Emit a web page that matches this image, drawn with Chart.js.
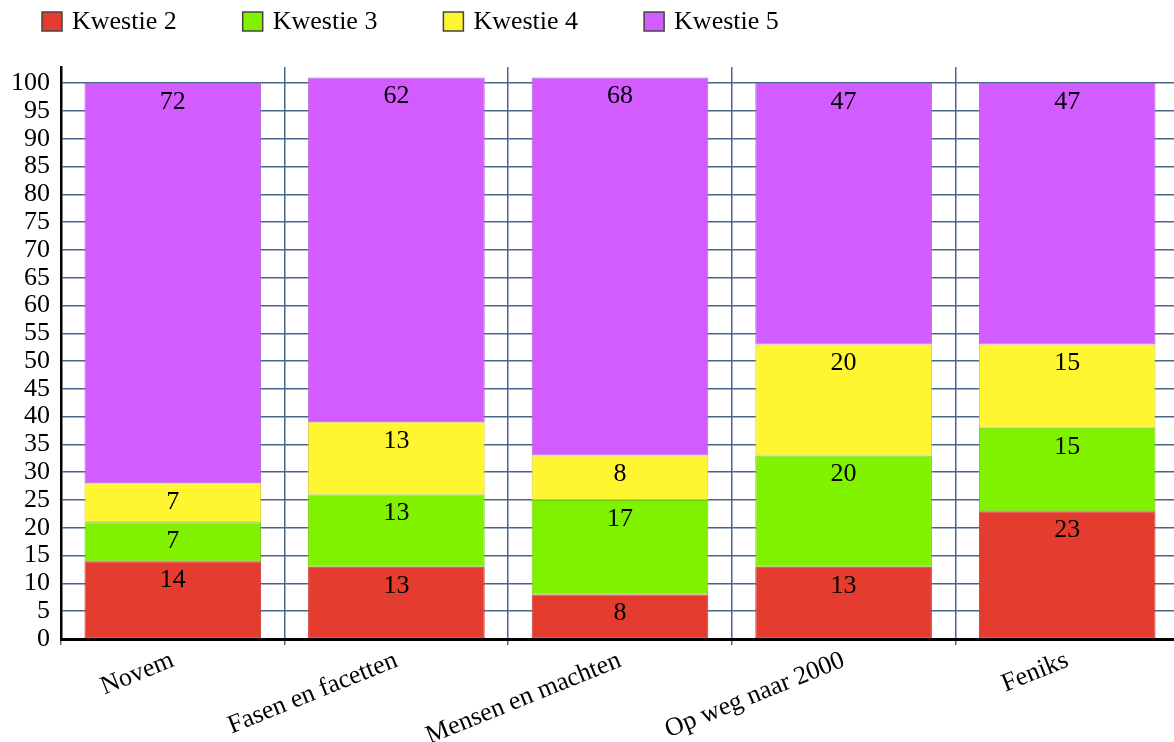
<!DOCTYPE html>
<html>
<head>
<meta charset="utf-8">
<script src="https://cdn.jsdelivr.net/npm/chart.js@4.4.1/dist/chart.umd.min.js"></script>
<style>
    html, body { margin: 0; padding: 0; background: #fff; overflow: hidden; }
    #wrap { width: 1179px; height: 742px; }
</style>
</head>
<body>
<div id="wrap"><canvas id="chart" width="1179" height="742"></canvas></div>
<script>
// ── DATA ─────────────────────────────────────────────
const categories = ['Novem', 'Fasen en facetten', 'Mensen en machten', 'Op weg naar 2000', 'Feniks'];
const seriesNames = ['Kwestie 2', 'Kwestie 3', 'Kwestie 4', 'Kwestie 5'];
const kwestie2 = [14, 13, 8, 13, 23];
const kwestie3 = [7, 13, 17, 20, 15];
const kwestie4 = [7, 13, 8, 20, 15];
const kwestie5 = [72, 62, 68, 47, 47];
const yTicks = [0, 5, 10, 15, 20, 25, 30, 35, 40, 45, 50, 55, 60, 65, 70, 75, 80, 85, 90, 95, 100];

const fills = ['#e53c30', '#80f200', '#fff530', '#d25cff'];
const borders = ['#c83a30', '#74c810', '#d8c838', '#b060d8'];
const FONT = 'Liberation Serif, Times New Roman, serif';
const gridColor = '#46668a';

// ── PLUGINS ──────────────────────────────────────────
// value label near the top of every segment
const segmentLabels = {
    id: 'segmentLabels',
    afterDatasetsDraw(chart) {
        const ctx = chart.ctx;
        ctx.save();
        ctx.font = '26px ' + FONT;
        ctx.fillStyle = '#000';
        ctx.textAlign = 'center';
        ctx.textBaseline = 'top';
        chart.data.datasets.forEach((ds, i) => {
            chart.getDatasetMeta(i).data.forEach((bar, j) => {
                ctx.fillText(String(ds.data[j]), bar.x, bar.y + 6);
            });
        });
        ctx.restore();
    }
};

// legend row at the top left
const topLegend = {
    id: 'topLegend',
    afterDraw(chart) {
        const ctx = chart.ctx;
        ctx.save();
        ctx.font = '26px ' + FONT;
        ctx.textBaseline = 'middle';
        ctx.textAlign = 'left';
        let x = 42;
        chart.data.datasets.forEach(ds => {
            ctx.fillStyle = ds.backgroundColor;
            ctx.fillRect(x, 12, 20, 19);
            ctx.strokeStyle = '#444';
            ctx.lineWidth = 1.5;
            ctx.strokeRect(x, 12, 20, 19);
            ctx.fillStyle = '#000';
            ctx.fillText(ds.label, x + 30, 22);
            x += 30 + ctx.measureText(ds.label).width + 66;
        });
        ctx.restore();
    }
};

// ── CHART ────────────────────────────────────────────
const seriesValues = [kwestie2, kwestie3, kwestie4, kwestie5];

new Chart(document.getElementById('chart'), {
    type: 'bar',
    data: {
        labels: categories,
        datasets: seriesNames.map((name, i) => ({
            label: name,
            data: seriesValues[i],
            backgroundColor: fills[i],
            borderColor: borders[i],
            borderWidth: 1,
            borderSkipped: false,
            categoryPercentage: 1,
            barPercentage: 0.79
        }))
    },
    options: {
        responsive: false,
        animation: false,
        layout: { padding: { top: 67, left: 0, right: 0, bottom: 0 } },
        plugins: {
            legend: { display: false },
            tooltip: { enabled: false }
        },
        scales: {
            x: {
                stacked: true,
                grid: { color: gridColor, lineWidth: 1.5, offset: true, tickLength: 6 },
                border: { color: '#000', width: 3 },
                ticks: {
                    color: '#000',
                    font: { family: FONT, size: 26 },
                    minRotation: 22,
                    maxRotation: 22,
                    autoSkip: false,
                    padding: 0
                },
                afterFit: s => { s.height = 103; }
            },
            y: {
                stacked: true,
                min: 0,
                max: 102.9,
                afterBuildTicks: s => { s.ticks = yTicks.map(v => ({ value: v })); },
                afterFit: s => { s.width = 61; },
                grid: { color: gridColor, lineWidth: 1.5, drawTicks: false },
                border: { color: '#000', width: 2.5 },
                ticks: {
                    color: '#000',
                    font: { family: FONT, size: 26 },
                    autoSkip: false,
                    padding: 11
                }
            }
        }
    },
    plugins: [segmentLabels, topLegend]
});
</script>
</body>
</html>
